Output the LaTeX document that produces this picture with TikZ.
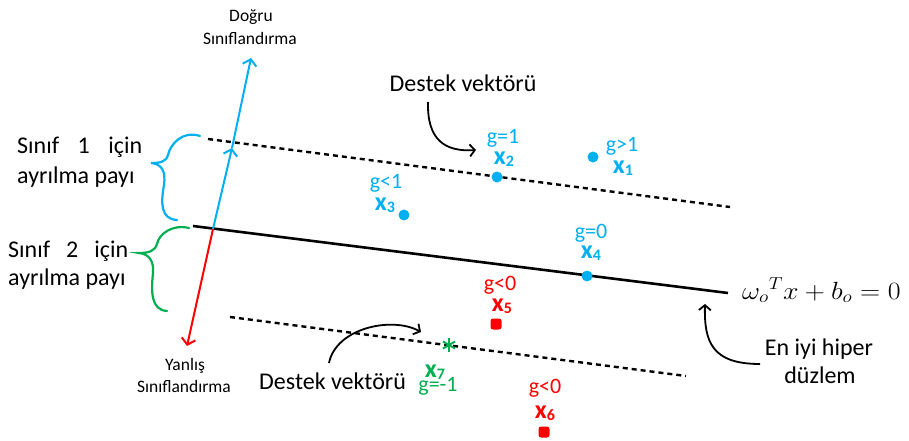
\documentclass[tikz,border=0pt]{standalone}
\usepackage{fontspec}
\setmainfont{Carlito}
\usetikzlibrary{arrows.meta,calc}
\definecolor{cblue}{HTML}{00B0F0}
\definecolor{cred}{HTML}{FF0000}
\definecolor{cgreen}{HTML}{00B050}
\newcommand\xsub[1]{x\raisebox{-2pt}{\fontsize{16}{16}\selectfont #1}}
\begin{document}
\begin{tikzpicture}[x=1pt,y=-1pt,
  dotb/.style={circle,fill=cblue,inner sep=0,minimum size=11pt},
  dotr/.style={rectangle,rounded corners=2.5pt,fill=cred,inner sep=0,minimum size=11pt},
  lbl/.style={inner sep=0,anchor=base},
  big/.style={lbl,font=\fontsize{24}{29}\selectfont},
  small/.style={lbl,font=\fontsize{17.5}{21}\selectfont},
  gl/.style={lbl,font=\fontsize{22}{25}\selectfont},
  xl/.style={lbl,font=\fontsize{26}{28}\selectfont\bfseries},
  barb/.style={-{Straight Barb[length=6pt,width=14pt]}},
  dashline/.style={line width=2.4pt,dash pattern=on 5pt off 4pt},
  brace/.style={line width=2.2pt,line cap=round},
  curv/.style={line width=1.8pt,-{Straight Barb[length=5pt,width=12pt]}}]
\useasboundingbox[fill=white] (0,0) rectangle (909,441);

% hyperplanes
\coordinate (h1) at (193,226); \coordinate (h2) at (728,293);
\draw[line width=2.6pt] (h1) -- (h2);
\coordinate (u1) at (208,139); \coordinate (u2) at (730,207);
\draw[dashline] (u1) -- (u2);
\coordinate (l1) at (230,317); \coordinate (l2) at (686,376);
\draw[dashline] (l1) -- (l2);

% classification arrows
\coordinate (base) at (213,229);
\coordinate (mid) at (232,148);
\coordinate (top) at (251,58);
\coordinate (rend) at (187,346);
\draw[cblue,line width=2pt,barb] (base) -- (mid);
\draw[cblue,line width=2pt,barb] (mid) -- (top);
\draw[cred,line width=2pt,barb] (base) -- (rend);

\node[small] (dg1) at (251,22) {Doğru};
\node[small] (dg2) at (250,45) {Sınıflandırma};
\node[small] (yn1) at (185,370) {Yanlış};
\node[small] (yn2) at (184,392) {Sınıflandırma};

% braces
\draw[cblue,brace] (200,136) .. controls (182,130) and (170,145) .. (168,155)
  .. controls (166,162) and (160,163) .. (151,163)
  .. controls (161,164) and (166,170) .. (164,185)
  .. controls (161,202) and (160,219) .. (177,220);
\draw[cgreen,brace] (189,228) .. controls (172,224) and (159,234) .. (157,244)
  .. controls (155,251) and (149,253) .. (139,253)
  .. controls (149,254) and (154,261) .. (153,273)
  .. controls (151,292) and (151,310) .. (167,311);

\node[big,anchor=base west] (s1a) at (17,153) {\makebox[125pt][s]{Sınıf 1 için}};
\node[big,anchor=base west] (s1b) at (17,183) {ayrılma payı};
\node[big,anchor=base west] (s2a) at (8,257) {\makebox[120pt][s]{Sınıf 2 için}};
\node[big,anchor=base west] (s2b) at (8,285) {ayrılma payı};

% support vector labels
\node[big] (dv1) at (463,92) {Destek vektörü};
\coordinate (ta1) at (428,102); \coordinate (ta2) at (476,150);
\draw[curv] (ta1) .. controls (427,140) and (445,152) .. (ta2);
\node[big,anchor=base west] (dv2) at (259,389) {Destek vektörü};
\coordinate (tb1) at (329,363); \coordinate (tb2) at (421,332);
\draw[curv] (tb1) .. controls (336,328) and (392,316) .. (tb2);

% points
\node[dotb] (p1) at (593,157) {};
\node[gl,cblue] (g1) at (622,151) {g>1};
\node[xl,cblue] (x1) at (623,173) {\xsub{1}};
\node[dotb] (p2) at (497,177) {};
\node[gl,cblue] (g2) at (503,143) {g=1};
\node[xl,cblue] (x2) at (504,164) {\xsub{2}};
\node[dotb] (p3) at (404,215) {};
\node[gl,cblue] (g3) at (386,188) {g<1};
\node[xl,cblue] (x3) at (385,210) {\xsub{3}};
\node[dotb] (p4) at (587,276) {};
\node[gl,cblue] (g4) at (591,238) {g=0};
\node[xl,cblue] (x4) at (591,258) {\xsub{4}};
\node[dotr] (p5) at (496,324) {};
\node[gl,cred] (g5) at (500,290) {g<0};
\node[xl,cred] (x5) at (502,311) {\xsub{5}};
\node[dotr] (p6) at (544,432) {};
\node[gl,cred] (g6) at (545,393) {g<0};
\node[xl,cred] (x6) at (545,418) {\xsub{6}};
\node[inner sep=0,minimum size=14pt] (p7) at (449,345) {};
\foreach \a in {90,30,150}
  \draw[cgreen,line width=2pt] ($(p7)+(\a:7)$) -- ($(p7)+(\a+180:7)$);
\node[xl,cgreen] (x7) at (435,377) {\xsub{7}};
\node[gl,cgreen] (g7) at (438,391) {g=-1};

% optimal hyperplane
\node[lbl,anchor=base west,font=\fontsize{23}{27}\selectfont] (eq) at (742,299) {\scalebox{1.12}[1]{${\omega_o}^T x + b_o = 0$}};
\node[big] (en1) at (819,355) {En iyi hiper};
\node[big] (en2) at (820,383) {düzlem};
\coordinate (tc1) at (760,364); \coordinate (tc2) at (705,304);
\draw[curv] (tc1) .. controls (712,364) and (704,342) .. (tc2);
\end{tikzpicture}
\end{document}
